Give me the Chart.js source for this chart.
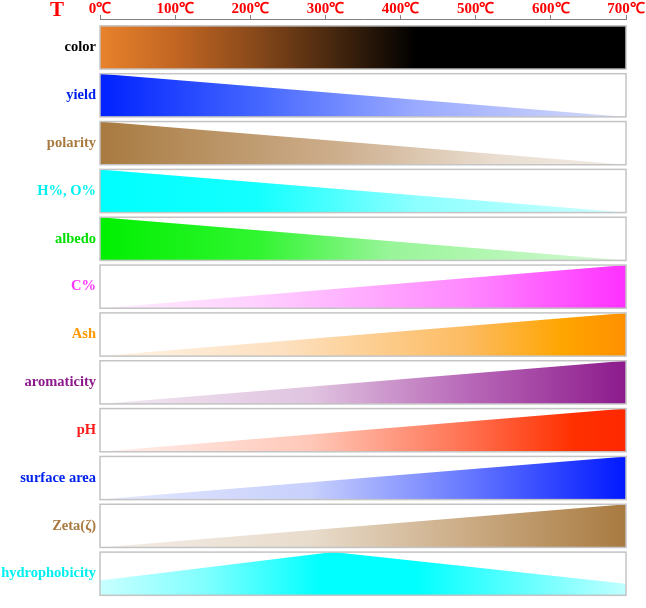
<!DOCTYPE html>
<html>
<head>
<meta charset="utf-8">
<script src="https://cdn.jsdelivr.net/npm/chart.js@4/dist/chart.umd.min.js"></script>
<style>
  body { margin: 0; background: #fff; }
  #wrap { width: 646px; height: 608px; position: relative; }
</style>
</head>
<body>
<div id="wrap"><canvas id="trend"></canvas></div>
<script>
// properties, top to bottom
var rowNames = ["color", "yield", "polarity", "H%, O%", "albedo", "C%", "Ash",
    "aromaticity", "pH", "surface area", "Zeta(\u03B6)", "hydrophobicity"];

// temperature points (℃) and relative level (0..1) for each row
var rowTemps = [
    [0, 700], [0, 700], [0, 700], [0, 700], [0, 700], [0, 700], [0, 700],
    [0, 700], [0, 700], [0, 700], [0, 700], [0, 310, 700]
];
var rowLevels = [
    [1, 1], [1, 0], [1, 0], [1, 0], [1, 0], [0, 1], [0, 1],
    [0, 1], [0, 1], [0, 1], [0, 1], [0.34, 1, 0.27]
];

var tempMin = 0;
var tempMax = 700;
var tempStep = 100;

// label colours
var labelColors = ["#000000", "#0022ee", "#a87a40", "#00f0f0", "#00e000", "#ff33ff",
    "#ff9900", "#8c1a8c", "#ff1a1a", "#0022ee", "#a87a40", "#00f0f0"];

// horizontal gradient stops for each row's fill
var fillStops = [
    [[0, "#e8822c"], [0.15, "#bf6422"], [0.3, "#86481a"], [0.45, "#44260e"], [0.6, "#000000"], [1, "#000000"]],
    [[0, "#0022ff"], [0.3, "#4466ff"], [0.6, "#9aaaff"], [1, "#d6dcf8"]],
    [[0, "#a87a40"], [0.45, "#cdae8c"], [0.75, "#e9ddd0"], [1, "#f2ece6"]],
    [[0, "#00ffff"], [0.3, "#14ffff"], [0.6, "#8cffff"], [1, "#d0ffff"]],
    [[0, "#00f000"], [0.3, "#30f530"], [0.55, "#98f598"], [1, "#d8f8d8"]],
    [[0, "#fff0ff"], [0.3, "#ffd0ff"], [0.7, "#ff88ff"], [1, "#ff30ff"]],
    [[0, "#fff4e6"], [0.35, "#fde0bf"], [0.7, "#fdbb60"], [0.88, "#ffa500"], [1, "#ff9000"]],
    [[0, "#f2e8f2"], [0.4, "#e0c4e0"], [0.7, "#b868b8"], [1, "#8c1a8c"]],
    [[0, "#fff0ee"], [0.4, "#ffc8b8"], [0.7, "#ff7050"], [0.9, "#ff3000"], [1, "#ff2800"]],
    [[0, "#e4e8fc"], [0.4, "#c8d0fc"], [0.7, "#6678ff"], [1, "#0018ff"]],
    [[0, "#f4eee8"], [0.4, "#e8dccc"], [0.7, "#cbab84"], [1, "#a87a40"]],
    [[0, "#c8ffff"], [0.2, "#80ffff"], [0.42, "#00ffff"], [0.6, "#00ffff"], [0.8, "#60ffff"], [1, "#c0ffff"]]
];

var gapUnits = 0.1075;   // gap between panels, in panel heights
var topUnits = 0.159;    // gap between axis line and first panel
var nRows = rowNames.length;

function rowBase(r) {
    return (nRows - 1 - r) * (1 + gapUnits);
}

function makeGradient(r) {
    return function (context) {
        var area = context.chart.chartArea;
        if (!area) { return null; }
        var g = context.chart.ctx.createLinearGradient(area.left, 0, area.right, 0);
        fillStops[r].forEach(function (s) { g.addColorStop(s[0], s[1]); });
        return g;
    };
}

/* build one filled line per row */
var datasets = [];
for (var r = 0; r < nRows; ++r) {
    var pts = [];
    for (var k = 0; k < rowTemps[r].length; ++k) {
        pts.push({ x: rowTemps[r][k], y: rowBase(r) + rowLevels[r][k] });
    }
    datasets.push({
        label: rowNames[r],
        data: pts,
        fill: { value: rowBase(r) },
        backgroundColor: makeGradient(r),
        borderWidth: 0,
        pointRadius: 0,
        tension: 0
    });
}

/* gray frame round every panel, plus the big T */
var panelFrames = {
    id: "panelFrames",
    afterDatasetsDraw: function (chart) {
        var c = chart.ctx;
        var xs = chart.scales.x, ys = chart.scales.y;
        var x0 = xs.getPixelForValue(tempMin), x1 = xs.getPixelForValue(tempMax);
        c.save();
        c.strokeStyle = "#c4c4c4";
        c.lineWidth = 1.5;
        for (var i = 0; i < nRows; ++i) {
            var yTop = ys.getPixelForValue(rowBase(i) + 1);
            var yBot = ys.getPixelForValue(rowBase(i));
            c.strokeRect(x0, yTop, x1 - x0, yBot - yTop);
        }
        c.restore();
    },
    afterDraw: function (chart) {
        var c = chart.ctx;
        c.save();
        c.fillStyle = "#ff0000";
        c.font = "bold 21px 'Liberation Serif', 'Times New Roman', serif";
        c.textAlign = "center";
        c.textBaseline = "alphabetic";
        c.fillText("T", 57, 16);
        c.restore();
    }
};

var ctx = document.getElementById("trend");
var trendChart = new Chart(ctx, {
    type: "line",
    data: { datasets: datasets },
    plugins: [panelFrames],
    options: {
        responsive: true,
        maintainAspectRatio: false,
        animation: false,
        layout: { padding: { left: 0, right: 20, top: 0, bottom: 2 } },
        plugins: {
            legend: { display: false },
            tooltip: { enabled: false }
        },
        scales: {
            x: {
                type: "linear",
                position: "top",
                min: tempMin,
                max: tempMax,
                afterFit: function (scale) { scale.height = 19; },
                grid: { drawOnChartArea: false, tickLength: 4, color: "#808080" },
                border: { color: "#808080", width: 1 },
                ticks: {
                    stepSize: tempStep,
                    padding: -3,
                    color: "#ff0000",
                    font: { family: "'Liberation Serif', 'Times New Roman', serif", size: 15, weight: "bold" },
                    callback: function (v) { return v + "\u2103"; }
                }
            },
            y: {
                type: "linear",
                min: 0,
                max: rowBase(0) + 1 + topUnits,
                afterFit: function (scale) { scale.width = 100; },
                afterBuildTicks: function (scale) {
                    scale.ticks = rowNames.map(function (n, i) { return { value: rowBase(i) + 0.5 }; });
                },
                grid: { display: false, drawTicks: false },
                border: { display: false },
                ticks: {
                    autoSkip: false,
                    padding: 4,
                    color: function (c) { return labelColors[c.index]; },
                    font: { family: "'Liberation Serif', 'Times New Roman', serif", size: 14.5, weight: "bold" },
                    callback: function (v, i) { return rowNames[i]; }
                }
            }
        }
    }
});
</script>
</body>
</html>
